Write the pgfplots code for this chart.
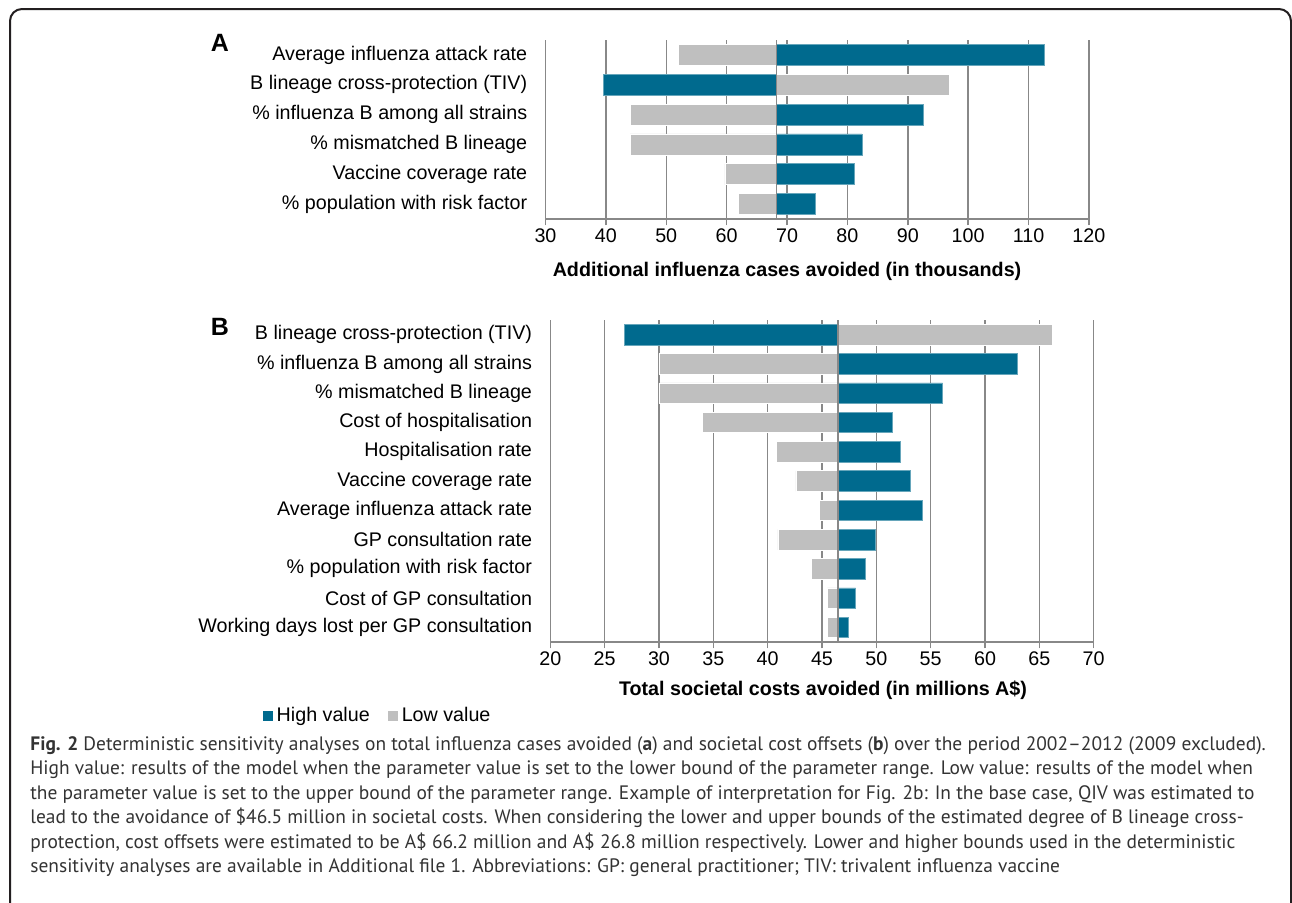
\documentclass[border=0pt]{standalone}
\usepackage{fontspec}
\setmainfont{Liberation Sans}
\newfontfamily\capfont{PT Sans}
\usepackage{pgfplots}
\usepackage{pgfplotstable}
\pgfplotsset{compat=1.18}
\definecolor{hi}{HTML}{006A8E}
\definecolor{lo}{HTML}{BFBFBF}
\definecolor{gridc}{HTML}{888888}
\definecolor{framec}{HTML}{231F20}
\definecolor{capc}{HTML}{333333}

\pgfplotstableread{
row high low
1 112.6 52.0
2 39.6 96.9
3 92.5 44.0
4 82.4 44.0
5 81.1 59.7
6 74.7 61.9
}\dataA

\pgfplotstableread{
row high low
1 26.8 66.2
2 63.0 30.0
3 56.1 30.0
4 51.5 34.0
5 52.2 40.8
6 53.1 42.6
7 54.2 44.75
8 49.9 40.95
9 49.0 44.0
10 48.1 45.5
11 47.4 45.5
}\dataB

\pgfplotsset{
  tornado/.style={
    scale only axis, width=271.7pt,
    y dir=reverse, ymin=0.5,
    axis x line=bottom, axis y line*=left,
    y axis line style={draw=none},
    x axis line style={gridc, line width=0.75pt, -},
    xmajorgrids, grid style={gridc, line width=0.75pt},
    tick align=outside, major tick length=3.2pt,
    xtick style={gridc, line width=0.75pt}, ytick style={draw=none},
    tick label style={font=\fontsize{9.85}{11}\selectfont, text=black},
    yticklabel style={inner sep=0pt, xshift=-5.75pt},
    xticklabel style={inner sep=0pt, yshift=-1.5pt},
    clip=false,
  },
  hibar/.style={xbar, bar shift=0pt, fill=hi, draw=hi!60!white, line width=0.3pt},
  lobar/.style={xbar, bar shift=0pt, fill=lo, draw=white, line width=0.3pt},
}

\begin{document}
\begin{tikzpicture}
\path[use as bounding box] (0pt,0pt) rectangle (646pt,-451pt);
\draw[framec, line width=1pt, rounded corners=6pt] (5pt,-4.5pt) rectangle (645.5pt,-480pt);

% Panel A
\begin{axis}[tornado,
  at={(272.75pt,-109.5pt)}, anchor=south west,
  height=89.5pt, ymax=6.5,
  xmin=30, xmax=120,
  x coord trafo/.code={\pgfmathparse{#1-68.3}},
  x coord inv trafo/.code={\pgfmathparse{#1+68.3}},
  xtick={30,40,50,60,70,80,90,100,110,120},
  xticklabels={30,40,50,60,70,80,90,100,110,120},
  ytick={1,2,3,4,5,6},
  yticklabels={Average influenza attack rate,B lineage cross-protection (TIV),\% influenza B among all strains,\% mismatched B lineage,Vaccine coverage rate,\% population with risk factor},
]
\addplot[hibar, bar width=10.5pt] table[x=high, y=row] {\dataA};
\addplot[lobar, bar width=10.5pt] table[x=low, y=row] {\dataA};
\addplot[sharp plot, no marks, gridc, line width=0.75pt] coordinates {(68.3,0.5) (68.3,6.5)};
\end{axis}

% Panel B
\begin{axis}[tornado,
  at={(275.15pt,-321pt)}, anchor=south west,
  height=161pt, ymax=11.5,
  xmin=20, xmax=70,
  x coord trafo/.code={\pgfmathparse{#1-46.46}},
  x coord inv trafo/.code={\pgfmathparse{#1+46.46}},
  xtick={20,25,30,35,40,45,50,55,60,65,70},
  xticklabels={20,25,30,35,40,45,50,55,60,65,70},
  ytick={1,2,3,4,5,6,7,8,9,10,11},
  yticklabels={B lineage cross-protection (TIV),\% influenza B among all strains,\% mismatched B lineage,Cost of hospitalisation,Hospitalisation rate,Vaccine coverage rate,Average influenza attack rate,GP consultation rate,\% population with risk factor,Cost of GP consultation,Working days lost per GP consultation},
  legend style={at={(-0.53,-0.23)}, anchor=west, draw=none, fill=none,
    font=\fontsize{9.85}{11}\selectfont, legend columns=2,
    /tikz/every even column/.append style={column sep=7pt},
    inner sep=0pt},
  legend image code/.code={\fill[#1, draw=none] (0pt,-2.5pt) rectangle (5pt,2.5pt);},
]
\addplot[hibar, bar width=10.25pt] table[x=high, y=row] {\dataB};
\addlegendentry{High value}
\addplot[lobar, bar width=10.25pt] table[x=low, y=row] {\dataB};
\addlegendentry{Low value}
\addplot[sharp plot, no marks, gridc, line width=0.75pt, forget plot] coordinates {(46.46,0.5) (46.46,11.5)};
\end{axis}

% axis titles and panel letters
\node[font=\bfseries\fontsize{9.85}{11}\selectfont] at (393.5pt,-135.5pt) {Additional influenza cases avoided (in thousands)};
\node[font=\bfseries\fontsize{9.85}{11}\selectfont] at (411.5pt,-345pt) {Total societal costs avoided (in millions A\$)};
\node[font=\bfseries\fontsize{12.5}{14}\selectfont] at (110pt,-21.5pt) {A};
\node[font=\bfseries\fontsize{12.5}{14}\selectfont] at (110pt,-163.5pt) {B};

% caption
\node[anchor=north west, inner sep=0pt, align=left, text=capc,
  font=\capfont\fontsize{9.72}{12.25}\selectfont] at (15pt,-368pt) {%
{\bfseries Fig. 2} Deterministic sensitivity analyses on total influenza cases avoided ({\bfseries a}) and societal cost offsets ({\bfseries b}) over the period 2002–2012 (2009 excluded).\\
High value: results of the model when the parameter value is set to the lower bound of the parameter range. Low value: results of the model when\\
the parameter value is set to the upper bound of the parameter range. Example of interpretation for Fig. 2b: In the base case, QIV was estimated to\\
lead to the avoidance of \$46.5 million in societal costs. When considering the lower and upper bounds of the estimated degree of B lineage cross-\\
protection, cost offsets were estimated to be A\$ 66.2 million and A\$ 26.8 million respectively. Lower and higher bounds used in the deterministic\\
sensitivity analyses are available in Additional file 1. Abbreviations: GP: general practitioner; TIV: trivalent influenza vaccine};
\end{tikzpicture}
\end{document}
